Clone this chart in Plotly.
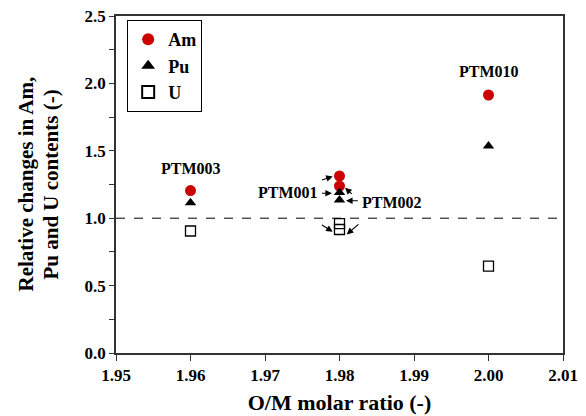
import plotly.graph_objects as go

# Data
om_ratio = [1.96, 1.98, 1.98, 2.00]
am_values = [1.205, 1.313, 1.238, 1.914]
pu_values = [1.115, 1.19, 1.135, 1.536]
u_values = [0.905, 0.96, 0.916, 0.645]
sample_labels = ["PTM003", "PTM001", "PTM002", "PTM010"]
x_ticks = [1.95, 1.96, 1.97, 1.98, 1.99, 2.00, 2.01]
y_ticks = [0.0, 0.5, 1.0, 1.5, 2.0, 2.5]

FONT = "Liberation Serif"

fig = go.Figure()
fig.add_trace(go.Scatter(x=om_ratio, y=am_values, mode="markers", name="<b>Am</b>",
                         marker=dict(symbol="circle", size=11, color="#cc0000")))
fig.add_trace(go.Scatter(x=om_ratio, y=pu_values, mode="markers", name="<b>Pu</b>",
                         marker=dict(symbol="triangle-up", size=10, color="black")))
fig.add_trace(go.Scatter(x=om_ratio, y=u_values, mode="markers", name="<b>U</b>",
                         marker=dict(symbol="square-open", size=10, color="black",
                                     line=dict(width=1.3, color="black"))))

# Reference line at 1.0
fig.add_shape(type="line", xref="paper", x0=0, x1=1, yref="y", y0=1.0, y1=1.0,
              line=dict(color="black", width=1, dash="dash"))

txt_font = dict(family=FONT, size=16, color="black")
fig.add_annotation(x=om_ratio[0], y=1.37, text="<b>" + sample_labels[0] + "</b>",
                   showarrow=False, font=txt_font)
fig.add_annotation(x=om_ratio[3], y=2.087, text="<b>" + sample_labels[3] + "</b>",
                   showarrow=False, font=txt_font)
fig.add_annotation(x=1.9731, y=1.19, text="<b>" + sample_labels[1] + "</b>",
                   showarrow=False, font=txt_font)
fig.add_annotation(x=1.98705, y=1.116, text="<b>" + sample_labels[2] + "</b>",
                   showarrow=False, font=txt_font)

# Arrows (tail -> head), data coordinates
arrows = [
    (1.97744, 1.28, 1.97909, 1.31),
    (1.97744, 1.185, 1.97899, 1.185),
    (1.97744, 0.957, 1.97909, 0.90),
    (1.98185, 1.17, 1.98074, 1.225),
    (1.98266, 1.13, 1.98087, 1.13),
    (1.98275, 0.964, 1.98097, 0.88),
]
for tx, ty, hx, hy in arrows:
    fig.add_annotation(x=hx, y=hy, ax=tx, ay=ty, xref="x", yref="y", axref="x", ayref="y",
                       text="", showarrow=True, arrowhead=2, arrowsize=1.2, arrowwidth=1.1,
                       arrowcolor="black")

# Y-axis title as two rotated lines
ytitle_font = dict(family=FONT, size=21, color="black")
fig.add_annotation(xref="paper", yref="paper", x=0, y=0.5, xanchor="center", yanchor="middle",
                   xshift=-91, text="<b>Relative changes in Am,</b>", textangle=-90,
                   showarrow=False, font=ytitle_font)
fig.add_annotation(xref="paper", yref="paper", x=0, y=0.5, xanchor="center", yanchor="middle",
                   xshift=-66, text="<b>Pu and U contents (-)</b>", textangle=-90,
                   showarrow=False, font=ytitle_font)

axis_common = dict(showgrid=False, zeroline=False, showline=True, linecolor="#333",
                   linewidth=1.5, mirror=True, ticks="outside", tickwidth=1,
                   tickcolor="#333", automargin=False, ticklabeloverflow="allow",
                   tickfont=dict(family=FONT, size=17, color="black"))

fig.update_layout(
    width=578, height=408,
    margin=dict(l=108, r=23, t=8, b=63),
    paper_bgcolor="white", plot_bgcolor="white",
    font=dict(family=FONT, color="black"),
    showlegend=True,
    legend=dict(x=0.025, y=0.988, xanchor="left", yanchor="top",
                bordercolor="black", borderwidth=1, bgcolor="white",
                font=dict(family=FONT, size=18, color="black"),
                itemsizing="constant", tracegroupgap=0, itemwidth=30),
    xaxis=dict(range=[1.95, 2.01], tickmode="array", tickvals=x_ticks,
               ticktext=["<b>%.2f</b>" % v for v in x_ticks], ticklen=6,
               title=dict(text="<b>O/M molar ratio (-)</b>",
                          font=dict(family=FONT, size=22, color="black"), standoff=10),
               **axis_common),
    yaxis=dict(range=[0, 2.5], tickmode="array", tickvals=y_ticks,
               ticktext=["<b>%.1f</b>" % v for v in y_ticks], ticklen=5,
               minor=dict(dtick=0.25, ticks="outside", ticklen=5, tickcolor="#333"),
               **axis_common),
)

fig.write_html("out.html")
